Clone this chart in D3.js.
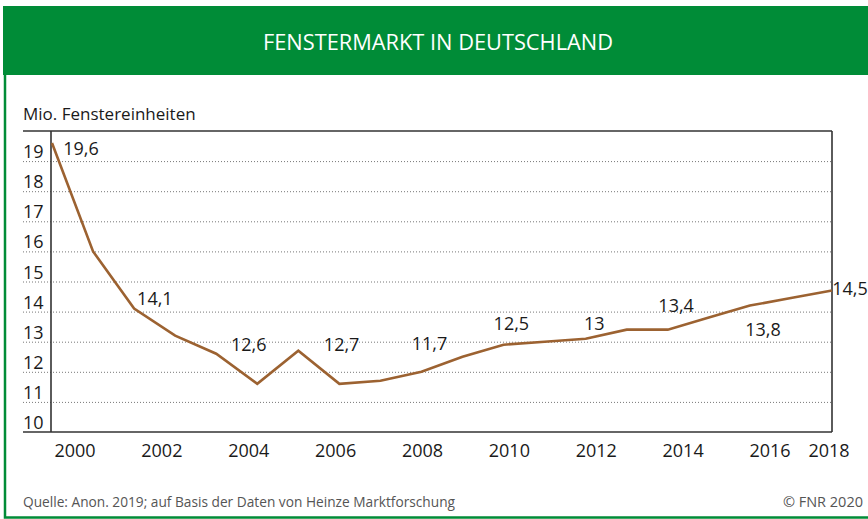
<!DOCTYPE html>
<html>
<head>
<meta charset="utf-8">
<script src="https://cdn.jsdelivr.net/npm/d3@7"></script>
<style>
	body { margin: 0; background: #fff; }
	svg { display: block; font-family: 'Open Sans', sans-serif; }
	.grid { stroke: #777; stroke-width: 1; stroke-dasharray: 1,2; }
	.frame { stroke: #333; stroke-width: 1.6; }
</style>
</head>
<body>
<div id="svg_container"></div>
<script>

/* -----------------------
data
------------------------- */

var title = 'FENSTERMARKT IN DEUTSCHLAND';
var unit = 'Mio. Fenstereinheiten';
var source = 'Quelle: Anon. 2019; auf Basis der Daten von Heinze Marktforschung';
var copy = '© FNR 2020';

// line vertices
var values = [19.6, 16.0, 14.1, 13.2, 12.6, 11.6, 12.7, 11.6, 11.7, 12.0,
	12.5, 12.9, 13.0, 13.1, 13.4, 13.4, 13.8, 14.2, 14.45, 14.7];

var yTicks = [10, 11, 12, 13, 14, 15, 16, 17, 18, 19];
var yearLabels = [2000, 2002, 2004, 2006, 2008, 2010, 2012, 2014, 2016, 2018];

// printed value labels
var labelYears = [2000, 2002, 2004, 2006, 2008, 2010, 2012, 2014, 2016, 2018];
var labelValues = [19.6, 14.1, 12.6, 12.7, 11.7, 12.5, 13, 13.4, 13.8, 14.5];

/* -----------------------
main variables
------------------------- */

var width = 868,
height = 519;

var left = 52, right = 832,
top_ = 131, bottom = 432,
grid_x0 = 23;

// pixel nudges for the value labels (layout only)
var nudge = [[6,12],[-7,-4],[0,-3],[6,0],[7,-31],[2,-27],[-2,-12],[-7,-18],[-7,18],[21,-2]];

var c_green = '#008C37',
c_line = '#9C6231',
c_text = '#1a1a1a',
c_foot = '#555';

var fmt = function(v) { return String(v).replace('.', ','); };

/* -----------------------
set plot
------------------------- */

var svg = d3.select('#svg_container')
	.append('svg')
	.attr('width', width)
	.attr('height', height);

var x = d3.scaleLinear()
	.domain([0, values.length - 1])
	.range([left, right]);

var y = d3.scaleLinear()
	.domain([10, 20])
	.range([bottom, top_]);

var xLab = d3.scaleLinear()
	.domain([2000, 2016])
	.range([75, 770]);

var xl = function(yr) { return Math.min(xLab(yr), 829); };

/* -----------------------
header and border
------------------------- */

svg.append('rect')
	.attr('x', 3).attr('y', 6)
	.attr('width', width - 3).attr('height', 69)
	.attr('fill', c_green);

svg.append('path')
	.attr('d', 'M5,75V517.5H' + width)
	.attr('fill', 'none')
	.attr('stroke', c_green)
	.attr('stroke-width', 2.5);

svg.append('text')
	.attr('x', 438).attr('y', 50)
	.attr('text-anchor', 'middle')
	.attr('font-size', 22)
	.attr('fill', '#fff')
	.attr('textLength', 350)
	.attr('lengthAdjust', 'spacingAndGlyphs')
	.text(title);

/* -----------------------
grid and frame
------------------------- */

var plot = svg.append('g');

plot.selectAll('.grid')
	.data(yTicks.slice(1))
	.enter()
	.append('line')
	.attr('class', 'grid')
	.attr('x1', grid_x0).attr('x2', right)
	.attr('y1', function(d) { return y(d) + 0.5; })
	.attr('y2', function(d) { return y(d) + 0.5; });

plot.selectAll('.ylab')
	.data(yTicks)
	.enter()
	.append('text')
	.attr('class', 'ylab')
	.attr('x', grid_x0)
	.attr('y', function(d) { return y(d) - 3; })
	.attr('font-size', 18)
	.attr('fill', c_text)
	.text(function(d) { return d; });

plot.append('line').attr('class', 'frame')
	.attr('x1', grid_x0).attr('x2', right).attr('y1', y(20)).attr('y2', y(20));
plot.append('line').attr('class', 'frame')
	.attr('x1', grid_x0).attr('x2', right).attr('y1', y(10)).attr('y2', y(10));
plot.append('line').attr('class', 'frame')
	.attr('x1', left - 1).attr('x2', left - 1).attr('y1', y(20)).attr('y2', y(10));
plot.append('line').attr('class', 'frame')
	.attr('x1', right).attr('x2', right).attr('y1', y(20)).attr('y2', y(10));

plot.append('text')
	.attr('x', grid_x0).attr('y', 120)
	.attr('font-size', 17)
	.attr('fill', c_text)
	.text(unit);

/* -----------------------
x labels
------------------------- */

plot.selectAll('.xlab')
	.data(yearLabels)
	.enter()
	.append('text')
	.attr('class', 'xlab')
	.attr('x', function(d) { return xl(d); })
	.attr('y', 457)
	.attr('text-anchor', 'middle')
	.attr('font-size', 18)
	.attr('fill', c_text)
	.text(function(d) { return d; });

/* -----------------------
line
------------------------- */

var line = d3.line()
	.x(function(d, i) { return x(i); })
	.y(function(d) { return y(d); });

plot.append('path')
	.datum(values)
	.attr('d', line)
	.attr('fill', 'none')
	.attr('stroke', c_line)
	.attr('stroke-width', 2.6)
	.attr('stroke-linejoin', 'miter');

/* -----------------------
value labels
------------------------- */

plot.selectAll('.vlab')
	.data(labelValues)
	.enter()
	.append('text')
	.attr('class', 'vlab')
	.attr('x', function(d, i) { return xl(labelYears[i]) + nudge[i][0]; })
	.attr('y', function(d, i) { return y(d) + nudge[i][1]; })
	.attr('text-anchor', 'middle')
	.attr('font-size', 18)
	.attr('fill', c_text)
	.text(function(d) { return fmt(d); });

/* -----------------------
footer
------------------------- */

svg.append('text')
	.attr('x', grid_x0).attr('y', 507)
	.attr('font-size', 14.5)
	.attr('fill', c_foot)
	.attr('textLength', 432)
	.attr('lengthAdjust', 'spacingAndGlyphs')
	.text(source);

svg.append('text')
	.attr('x', 863).attr('y', 507)
	.attr('text-anchor', 'end')
	.attr('font-size', 14.5)
	.attr('fill', c_foot)
	.text(copy);

</script>
</body>
</html>
